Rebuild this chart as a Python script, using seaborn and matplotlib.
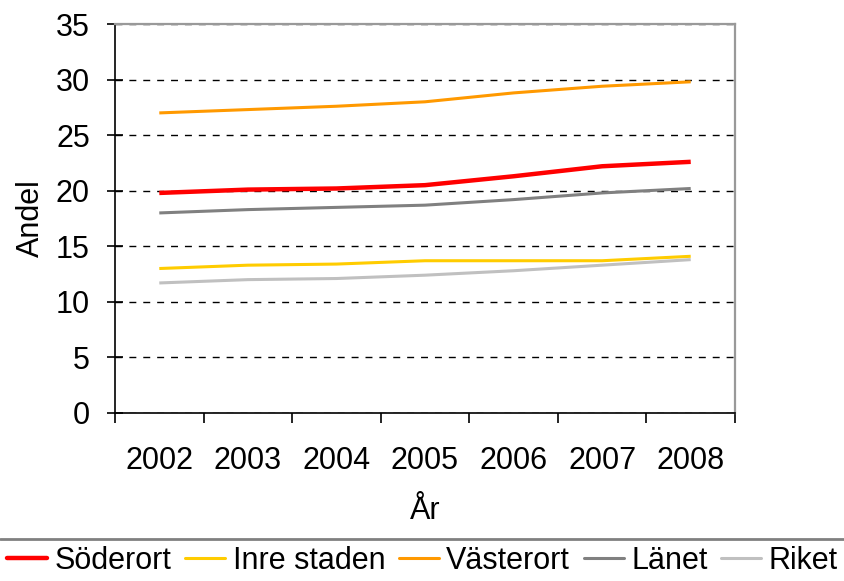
import matplotlib
matplotlib.use("Agg")
import matplotlib.pyplot as plt
import seaborn as sns
import pandas as pd
from matplotlib.lines import Line2D

# Data
ar = [2002, 2003, 2004, 2005, 2006, 2007, 2008]
soderort = [19.8, 20.1, 20.2, 20.5, 21.3, 22.2, 22.6]
inre_staden = [13.0, 13.3, 13.4, 13.7, 13.7, 13.7, 14.1]
vasterort = [27.0, 27.3, 27.6, 28.0, 28.8, 29.4, 29.8]
lanet = [18.0, 18.3, 18.5, 18.7, 19.2, 19.8, 20.2]
riket = [11.7, 12.0, 12.1, 12.4, 12.8, 13.3, 13.8]

serier = ["Söderort", "Inre staden", "Västerort", "Länet", "Riket"]
farger = ["#FF0000", "#FFCC00", "#FF9900", "#808080", "#C0C0C0"]
bredder = [3.2, 2.2, 2.2, 2.2, 2.2]

sns.set_theme(style="white")
plt.rcParams["font.family"] = ["Liberation Sans", "DejaVu Sans"]
plt.rcParams["text.color"] = "black"
plt.rcParams["axes.labelcolor"] = "black"
plt.rcParams["xtick.color"] = "black"
plt.rcParams["ytick.color"] = "black"

FS = 22

# Long-form table
rader = []
for namn, varden in zip(serier, [soderort, inre_staden, vasterort, lanet, riket]):
    for i, (a, v) in enumerate(zip(ar, varden)):
        rader.append({"pos": i, "Ar": a, "Andel": v, "Serie": namn})
df = pd.DataFrame(rader)

fig = plt.figure(figsize=(8.45, 5.81), dpi=100)
ax = fig.add_axes([115 / 845, 1 - 413 / 581, 620 / 845, 389 / 581])

for namn, farg, lw in zip(serier, farger, bredder):
    sns.lineplot(data=df[df["Serie"] == namn], x="pos", y="Andel", color=farg,
                 linewidth=lw, ax=ax, label=namn, legend=False,
                 solid_capstyle="butt", zorder=3)

# Axes and ticks
ax.set_xlim(-0.5, len(ar) - 0.5)
ax.set_ylim(0, 35)
ax.set_yticks(range(0, 36, 5))
ax.set_xticks(range(len(ar)))
ax.set_xticklabels([str(a) for a in ar])
ax.set_xticks([i - 0.5 for i in range(len(ar) + 1)], minor=True)
ax.tick_params(axis="x", which="major", length=0, pad=24, labelsize=FS)
ax.tick_params(axis="x", which="minor", length=7, width=1.2, color="black",
               direction="out", bottom=True)
ax.tick_params(axis="y", length=12, width=1.2, color="black", direction="inout",
               left=True, pad=12, labelsize=FS)

ax.yaxis.grid(True, color="black", linestyle=(0, (5, 5)), linewidth=1.0)
ax.set_axisbelow(True)

for s in ["left", "bottom"]:
    ax.spines[s].set_color("black")
    ax.spines[s].set_linewidth(1.2)
for s in ["top", "right"]:
    ax.spines[s].set_color("#999999")
    ax.spines[s].set_linewidth(1.6)

ax.set_xlabel("År", fontsize=FS, labelpad=14)
ax.set_ylabel("Andel", fontsize=FS, labelpad=7)

# Separator above legend
fig.add_artist(Line2D([0, 1], [1 - 539 / 581, 1 - 539 / 581], transform=fig.transFigure,
                      color="#808080", linewidth=2))

handles = [Line2D([], [], color=f, linewidth=w) for f, w in zip(farger, bredder)]
fig.legend(handles, serier, loc="center", bbox_to_anchor=(0.5, 1 - 561 / 581), ncol=5,
           frameon=False, fontsize=FS, handlelength=1.3, handletextpad=0.25,
           columnspacing=0.45, borderaxespad=0, borderpad=0)

fig.savefig("out.png", dpi=100)
